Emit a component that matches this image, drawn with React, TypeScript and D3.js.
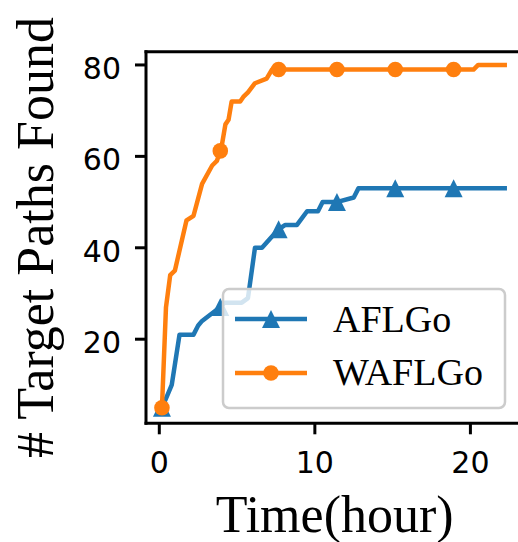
import React from "react";
import * as d3 from "d3";

const xTicks = [0, 10, 20];
const yTicks = [20, 40, 60, 80];

const aflgoT = [0.17, 0.55, 0.8, 1.3, 2.2, 2.5, 2.75, 3.9, 4.2, 5.3, 5.7, 6.15, 6.6, 7.65, 8.1, 8.85, 9.5, 10.2, 10.5, 11.4, 12.5, 12.8, 22.35];
const aflgoV = [5, 8, 10, 21, 21, 23, 24, 27, 28, 28, 29, 40, 40, 44, 45, 45, 48, 48, 50, 50, 51, 53, 53];

const waflgoT = [0.17, 0.43, 0.7, 1.0, 1.75, 2.2, 2.75, 3.4, 3.7, 4.0, 4.25, 4.45, 4.65, 5.2, 5.4, 5.7, 6.15, 6.9, 7.25, 20.2, 20.5, 22.35];
const waflgoV = [5, 27, 34, 35, 46, 47, 54, 58, 59, 62, 67, 68, 72, 72, 73, 74, 76, 77, 79, 79, 80, 80];

const markerT = [0.17, 3.92, 7.67, 11.42, 15.17, 18.92];

const seriesNames = ["AFLGo", "WAFLGo"];
const colors = ["#1f77b4", "#ff7f0e"];

const W = 518;
const H = 542;
const L = 146, R = 523.3, T = 51.7, B = 423.3;

function interp(ts: number[], vs: number[], t: number) {
  for (let i = 0; i < ts.length - 1; i++) {
    if (t >= ts[i] && t <= ts[i + 1]) {
      const f = (t - ts[i]) / (ts[i + 1] - ts[i]);
      return vs[i] + f * (vs[i + 1] - vs[i]);
    }
  }
  return t < ts[0] ? vs[0] : vs[vs.length - 1];
}

export default function App() {
  const x = d3.scaleLinear().domain([-0.855, 23.4]).range([L, R]);
  const y = d3.scaleLinear().domain([1.6, 82.9]).range([B, T]);
  const line = d3
    .line<[number, number]>()
    .x((d) => x(d[0]))
    .y((d) => y(d[1]));

  const series = [
    { t: aflgoT, v: aflgoV },
    { t: waflgoT, v: waflgoV },
  ];

  const tri = (cx: number, cy: number, s: number) =>
    `M${cx},${cy - s / 2}L${cx + s / 2},${cy + s / 2}L${cx - s / 2},${cy + s / 2}Z`;

  const serif = "'Liberation Serif', 'Times New Roman', serif";
  const sans = "'DejaVu Sans', sans-serif";

  const legendY = [319, 373];
  const legendTextY = [332, 385];

  return (
    <svg
      width={W}
      height={H}
      style={{ position: "absolute", left: 0, top: 0, background: "#fff" }}
    >
      <defs>
        <clipPath id="plotclip">
          <rect x={L} y={T} width={R - L} height={B - T} />
        </clipPath>
      </defs>
      <g clipPath="url(#plotclip)">
        {series.map((s, i) => {
          const pts = s.t.map((t, j) => [t, s.v[j]] as [number, number]);
          return (
            <g key={i}>
              <path
                d={line(pts) || ""}
                fill="none"
                stroke={colors[i]}
                strokeWidth={4.5}
                strokeLinejoin="round"
              />
              {markerT.map((mt, k) => {
                const mx = x(mt);
                const my = y(interp(s.t, s.v, mt));
                return i === 0 ? (
                  <path key={k} d={tri(mx, my, 18)} fill={colors[i]} />
                ) : (
                  <circle key={k} cx={mx} cy={my} r={7.8} fill={colors[i]} />
                );
              })}
            </g>
          );
        })}
      </g>
      {/* spines */}
      <line x1={L} x2={L} y1={T - 1.5} y2={B + 1.5} stroke="#000" strokeWidth={3} />
      <line x1={L - 1.5} x2={W} y1={B} y2={B} stroke="#000" strokeWidth={3} />
      <line x1={L - 1.5} x2={W} y1={T} y2={T} stroke="#000" strokeWidth={3} />
      <line x1={R} x2={R} y1={T} y2={B} stroke="#000" strokeWidth={3} />
      {/* x ticks */}
      {xTicks.map((t) => (
        <g key={t}>
          <line x1={x(t)} x2={x(t)} y1={B} y2={B + 11} stroke="#000" strokeWidth={3} />
          <text
            x={x(t)}
            y={473}
            textAnchor="middle"
            fontFamily={sans}
            fontSize={30}
            fill="#000"
          >
            {t}
          </text>
        </g>
      ))}
      {/* y ticks */}
      {yTicks.map((v) => (
        <g key={v}>
          <line x1={L - 11} x2={L} y1={y(v)} y2={y(v)} stroke="#000" strokeWidth={3} />
          <text
            x={121}
            y={y(v) + 14}
            textAnchor="end"
            fontFamily={sans}
            fontSize={30}
            fill="#000"
          >
            {v}
          </text>
        </g>
      ))}
      {/* axis labels */}
      <text
        x={(L + R) / 2}
        y={532}
        textAnchor="middle"
        fontFamily={serif}
        fontSize={52}
        fill="#000"
      >
        Time(hour)
      </text>
      <text
        transform={`translate(53,${(T + B) / 2}) rotate(-90)`}
        textAnchor="middle"
        fontFamily={serif}
        fontSize={52}
        fill="#000"
      >
        # Target Paths Found
      </text>
      {/* legend */}
      <rect
        x={223}
        y={289}
        width={282}
        height={119}
        rx={6}
        ry={6}
        fill="#fff"
        fillOpacity={0.8}
        stroke="#cccccc"
        strokeWidth={2.5}
      />
      {seriesNames.map((name, i) => (
        <g key={name}>
          <line
            x1={235}
            x2={307}
            y1={legendY[i]}
            y2={legendY[i]}
            stroke={colors[i]}
            strokeWidth={4.5}
          />
          {i === 0 ? (
            <path d={tri(271, legendY[i], 18)} fill={colors[i]} />
          ) : (
            <circle cx={271} cy={legendY[i]} r={7.8} fill={colors[i]} />
          )}
          <text
            x={333}
            y={legendTextY[i]}
            fontFamily={serif}
            fontSize={38}
            fill="#000"
          >
            {name}
          </text>
        </g>
      ))}
    </svg>
  );
}
